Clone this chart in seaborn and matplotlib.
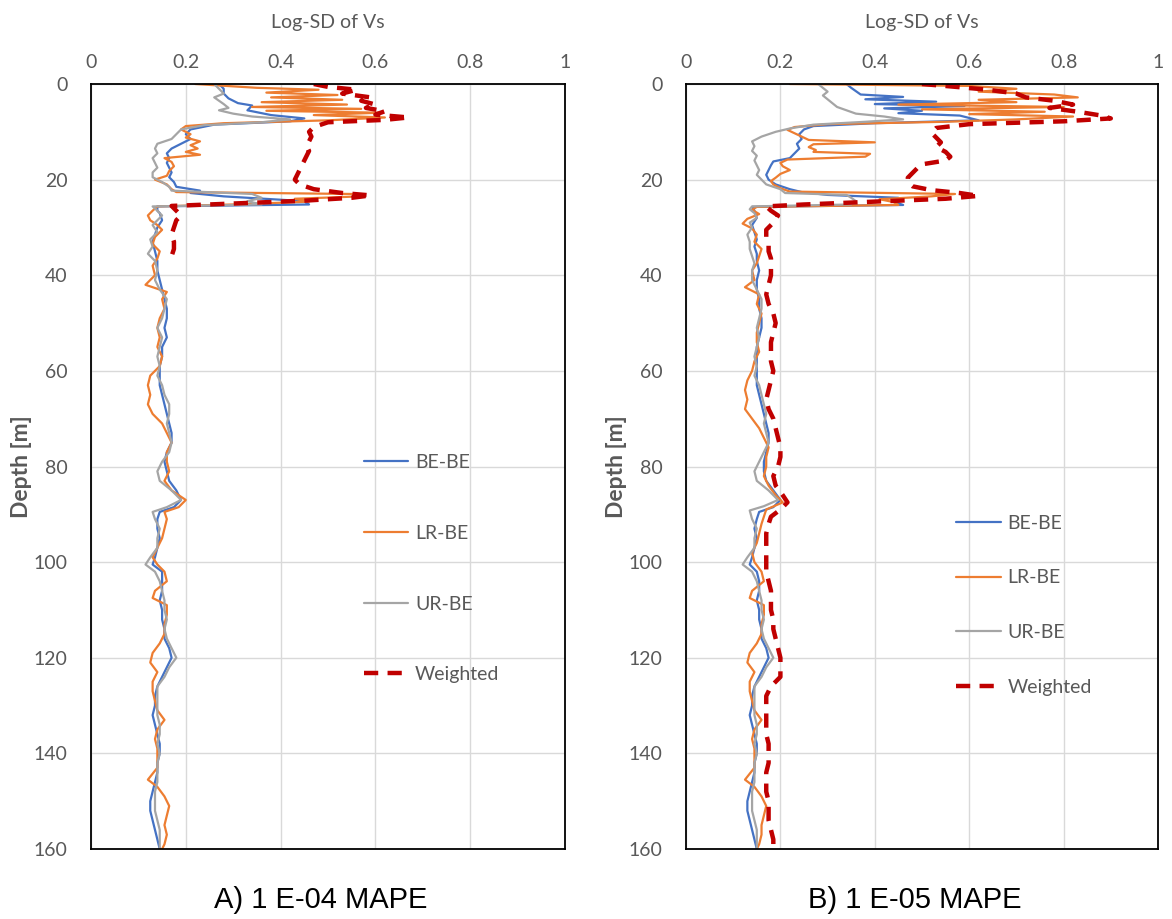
import numpy as np
import pandas as pd
import matplotlib
matplotlib.use("Agg")
import matplotlib.pyplot as plt
import seaborn as sns

# ---------------------------------------------------------------
# Log-SD of Vs profiles, pairs of [depth (m), log-SD]
# ---------------------------------------------------------------
labels = ["BE-BE", "LR-BE", "UR-BE", "Weighted"]
colors = ["#4472C4", "#ED7D31", "#A5A5A5", "#C00000"]
x_ticks = [0, 0.2, 0.4, 0.6, 0.8, 1]
y_ticks = [0, 20, 40, 60, 80, 100, 120, 140, 160]
panel_titles = ["A) 1 E-04 MAPE", "B) 1 E-05 MAPE"]

# Panel A: 1E-04 MAPE
a_be = np.array([
    [0, 0.27], [1, 0.28], [2, 0.28], [3, 0.29], [4, 0.31], [4.5, 0.34], [5.5, 0.33],
    [6.5, 0.38], [7.2, 0.45], [7.8, 0.42], [8.5, 0.26], [9.5, 0.21], [10.5, 0.20],
    [11.5, 0.21], [12.5, 0.19], [13.5, 0.17], [14.5, 0.16], [15.5, 0.165], [16.5, 0.16],
    [17.5, 0.165], [18.5, 0.17], [19.5, 0.165], [20.5, 0.175], [21.5, 0.18], [22.3, 0.23],
    [22.8, 0.21], [23.5, 0.28], [24.5, 0.45], [25.2, 0.46], [25.6, 0.14], [26.5, 0.14],
    [27, 0.145], [28.5, 0.15], [30, 0.14], [31.5, 0.135], [33, 0.13], [35, 0.135],
    [37, 0.14], [39, 0.14], [41, 0.145], [43, 0.15], [45, 0.155], [47, 0.16], [49, 0.16],
    [51, 0.155], [53, 0.16], [55, 0.15], [57, 0.15], [59, 0.145], [61, 0.145],
    [63, 0.145], [65, 0.15], [67, 0.155], [69, 0.16], [71, 0.165], [73, 0.17], [75, 0.17],
    [77, 0.16], [79, 0.155], [81, 0.16], [83, 0.165], [85, 0.18], [87, 0.19],
    [88.5, 0.175], [89.5, 0.145], [91, 0.14], [93, 0.14], [95, 0.145], [97, 0.14],
    [99, 0.135], [100.5, 0.13], [102, 0.15], [104, 0.15], [106, 0.15], [108, 0.145],
    [110, 0.15], [112, 0.15], [114, 0.155], [116, 0.155], [118, 0.165], [120, 0.17],
    [122, 0.16], [124, 0.15], [126, 0.14], [128, 0.135], [130, 0.135], [132, 0.13],
    [134, 0.135], [136, 0.14], [138, 0.145], [140, 0.145], [142, 0.14], [144, 0.14],
    [146, 0.135], [148, 0.13], [150, 0.125], [152, 0.125], [154, 0.13], [156, 0.135],
    [158, 0.14], [160, 0.145]])

a_lr = np.array([
    [0, 0.22], [0.8, 0.35], [1.2, 0.48], [1.8, 0.37], [2.3, 0.52], [2.8, 0.38],
    [3.3, 0.53], [3.8, 0.36], [4.3, 0.54], [4.8, 0.34], [5.2, 0.57], [5.6, 0.37],
    [6.0, 0.61], [6.5, 0.47], [7.0, 0.62], [7.6, 0.5], [8.2, 0.28], [8.8, 0.2],
    [9.5, 0.19], [10.5, 0.21], [11.2, 0.2], [12, 0.23], [12.8, 0.21], [13.5, 0.225],
    [14.2, 0.2], [14.8, 0.23], [15.5, 0.155], [16.3, 0.17], [17.2, 0.175], [18.2, 0.165],
    [19.2, 0.16], [20, 0.135], [21, 0.16], [22, 0.17], [22.6, 0.18], [23, 0.55],
    [23.5, 0.57], [24, 0.43], [24.6, 0.46], [25.2, 0.3], [25.6, 0.14], [26.5, 0.13],
    [27.5, 0.12], [28.5, 0.125], [29.5, 0.14], [30.5, 0.15], [32, 0.135], [33.5, 0.13],
    [35, 0.145], [36.5, 0.14], [38, 0.13], [40, 0.135], [42, 0.115], [43.5, 0.16],
    [45, 0.15], [47, 0.155], [49, 0.145], [51, 0.14], [53, 0.145], [55, 0.14],
    [57, 0.15], [59, 0.145], [61, 0.125], [63, 0.12], [65, 0.125], [67, 0.12],
    [69, 0.13], [71, 0.15], [73, 0.16], [75, 0.17], [77, 0.16], [79, 0.16], [81, 0.165],
    [83, 0.155], [85, 0.17], [87, 0.2], [88.5, 0.185], [89.5, 0.155], [91, 0.16],
    [93, 0.155], [95, 0.15], [97, 0.14], [99, 0.13], [100.5, 0.14], [102, 0.155],
    [104, 0.16], [106, 0.135], [107.5, 0.13], [109, 0.16], [111, 0.16], [113, 0.155],
    [115, 0.155], [117, 0.145], [119, 0.13], [121, 0.125], [123, 0.14], [125, 0.13],
    [127, 0.13], [129, 0.135], [131, 0.14], [133, 0.155], [135, 0.14], [137, 0.135],
    [139, 0.14], [141, 0.14], [143, 0.14], [145.5, 0.12], [147, 0.14], [149, 0.155],
    [151, 0.165], [153, 0.16], [155, 0.155], [157, 0.16], [159, 0.155], [160, 0.15]])

a_ur = np.array([
    [0, 0.26], [1, 0.27], [2, 0.28], [2.8, 0.26], [3.5, 0.27], [4.2, 0.28], [5, 0.29],
    [5.5, 0.27], [6.2, 0.3], [6.8, 0.34], [7.4, 0.42], [8.0, 0.36], [8.6, 0.24],
    [9.5, 0.19], [10.5, 0.18], [11.5, 0.17], [12.5, 0.14], [13.5, 0.135], [14.5, 0.14],
    [15.5, 0.13], [16.5, 0.135], [17.5, 0.14], [18.5, 0.13], [19.5, 0.13], [20.5, 0.15],
    [21.5, 0.165], [22.3, 0.17], [23, 0.34], [23.8, 0.36], [24.5, 0.33], [25.2, 0.36],
    [25.6, 0.13], [26.5, 0.14], [27.5, 0.15], [28.5, 0.14], [29.5, 0.13], [31, 0.14],
    [32.5, 0.125], [34, 0.13], [35.5, 0.12], [37, 0.135], [39, 0.14], [41, 0.135],
    [43, 0.145], [45, 0.16], [47, 0.155], [49, 0.15], [51, 0.14], [53, 0.15], [55, 0.145],
    [57, 0.14], [59, 0.145], [61, 0.14], [63, 0.15], [65, 0.155], [67, 0.165],
    [69, 0.165], [71, 0.16], [73, 0.165], [75, 0.17], [77, 0.165], [79, 0.15], [81, 0.14],
    [83, 0.145], [85, 0.17], [87, 0.19], [88.5, 0.16], [89.5, 0.13], [91, 0.135],
    [93, 0.145], [95, 0.14], [97, 0.14], [99, 0.125], [100.5, 0.115], [102, 0.135],
    [104, 0.145], [106, 0.15], [108, 0.155], [110, 0.155], [112, 0.16], [114, 0.155],
    [116, 0.16], [118, 0.17], [120, 0.18], [122, 0.165], [124, 0.155], [126, 0.14],
    [128, 0.14], [130, 0.14], [132, 0.14], [134, 0.145], [136, 0.145], [138, 0.14],
    [140, 0.145], [142, 0.14], [144, 0.14], [146, 0.14], [148, 0.135], [150, 0.135],
    [152, 0.135], [154, 0.14], [156, 0.145], [158, 0.145], [160, 0.145]])

a_wt = np.array([
    [0, 0.47], [0.6, 0.5], [1.2, 0.56], [2, 0.53], [2.8, 0.59], [3.5, 0.57], [4.3, 0.6],
    [5, 0.58], [5.7, 0.62], [6.4, 0.6], [7.0, 0.67], [7.5, 0.62], [8.0, 0.5],
    [9, 0.47], [10, 0.46], [11, 0.465], [12, 0.46], [13, 0.455], [14, 0.46], [15, 0.455],
    [16, 0.45], [17, 0.445], [18, 0.44], [19, 0.435], [20, 0.43], [21, 0.44],
    [22, 0.47], [22.8, 0.53], [23.3, 0.59], [23.8, 0.55], [24.4, 0.45], [25, 0.3],
    [25.5, 0.17], [26.5, 0.18], [27.5, 0.19], [28.5, 0.18], [30, 0.175], [31.5, 0.17],
    [33, 0.175], [34.5, 0.175], [36, 0.17], [37, 0.175]])

# Panel B: 1E-05 MAPE
b_be = np.array([
    [0, 0.34], [0.8, 0.35], [1.5, 0.36], [2.2, 0.37], [2.7, 0.46], [3.2, 0.38],
    [3.7, 0.53], [4.2, 0.4], [4.6, 0.59], [5.1, 0.42], [5.6, 0.5], [6.1, 0.45],
    [6.6, 0.58], [7.1, 0.6], [7.6, 0.62], [8.2, 0.4], [8.8, 0.27], [9.5, 0.25],
    [10.5, 0.24], [11.5, 0.245], [12.5, 0.235], [13.5, 0.24], [14.5, 0.23], [15.5, 0.22],
    [16.2, 0.185], [17, 0.18], [18, 0.175], [19, 0.17], [20, 0.175], [21, 0.19],
    [22, 0.22], [22.6, 0.245], [23.2, 0.3], [23.8, 0.45], [24.6, 0.44], [25.3, 0.46],
    [25.7, 0.14], [26.5, 0.145], [28, 0.15], [29.5, 0.14], [31, 0.145], [32.5, 0.15],
    [34, 0.145], [35.5, 0.15], [37, 0.15], [39, 0.155], [41, 0.15], [43, 0.15],
    [45, 0.155], [47, 0.155], [49, 0.16], [51, 0.16], [53, 0.155], [55, 0.15],
    [57, 0.15], [59, 0.15], [61, 0.15], [63, 0.15], [65, 0.155], [67, 0.16], [69, 0.165],
    [71, 0.17], [73, 0.175], [75, 0.175], [77, 0.17], [79, 0.165], [81, 0.165],
    [83, 0.17], [85, 0.185], [87, 0.2], [88.5, 0.185], [89.5, 0.155], [91, 0.15],
    [93, 0.145], [95, 0.15], [97, 0.145], [99, 0.14], [100.5, 0.135], [102, 0.15],
    [104, 0.155], [106, 0.155], [108, 0.15], [110, 0.155], [112, 0.155], [114, 0.16],
    [116, 0.16], [118, 0.17], [120, 0.175], [122, 0.165], [124, 0.155], [126, 0.145],
    [128, 0.14], [130, 0.14], [132, 0.135], [134, 0.14], [136, 0.145], [138, 0.15],
    [140, 0.15], [142, 0.145], [144, 0.145], [146, 0.14], [148, 0.135], [150, 0.13],
    [152, 0.13], [154, 0.135], [156, 0.14], [158, 0.145], [160, 0.15]])

b_lr = np.array([
    [0, 0.22], [0.4, 0.6], [1.0, 0.7], [1.6, 0.62], [2.2, 0.78], [2.8, 0.83],
    [3.3, 0.62], [3.8, 0.7], [4.3, 0.45], [4.8, 0.8], [5.3, 0.5], [5.8, 0.76],
    [6.3, 0.6], [6.8, 0.82], [7.4, 0.7], [7.9, 0.55], [8.4, 0.3], [9, 0.23],
    [9.6, 0.215], [10.3, 0.23], [11, 0.245], [11.7, 0.26], [12.2, 0.4], [12.6, 0.27],
    [13.2, 0.26], [13.8, 0.275], [14.2, 0.27], [14.6, 0.39], [15.2, 0.38], [15.8, 0.215],
    [16.5, 0.2], [17.2, 0.205], [18, 0.22], [18.8, 0.2], [19.6, 0.19], [20.3, 0.18],
    [21, 0.185], [21.8, 0.2], [22.5, 0.22], [23, 0.57], [23.5, 0.52], [24.1, 0.41],
    [24.7, 0.44], [25.3, 0.45], [25.7, 0.15], [26.3, 0.14], [27.2, 0.155], [28.2, 0.13],
    [29.2, 0.12], [30.2, 0.14], [31.5, 0.15], [33, 0.145], [34.5, 0.16], [36, 0.155],
    [37.5, 0.15], [39, 0.14], [41, 0.145], [42.5, 0.125], [44, 0.155], [46, 0.15],
    [48, 0.16], [50, 0.155], [52, 0.15], [54, 0.15], [56, 0.155], [58, 0.145],
    [60, 0.14], [62, 0.13], [64, 0.125], [66, 0.13], [68, 0.125], [70, 0.14],
    [72, 0.155], [74, 0.165], [76, 0.175], [78, 0.17], [80, 0.17], [82, 0.165],
    [84, 0.175], [86, 0.19], [87.5, 0.205], [89, 0.17], [90.5, 0.165], [92, 0.16],
    [94, 0.155], [96, 0.15], [98, 0.14], [100, 0.145], [102, 0.16], [104, 0.165],
    [106, 0.14], [107.5, 0.135], [109, 0.165], [111, 0.165], [113, 0.16], [115, 0.16],
    [117, 0.15], [119, 0.135], [121, 0.13], [123, 0.145], [125, 0.135], [127, 0.135],
    [129, 0.14], [131, 0.145], [133, 0.16], [135, 0.145], [137, 0.14], [139, 0.145],
    [141, 0.145], [143, 0.145], [145.5, 0.125], [147, 0.145], [149, 0.16], [151, 0.17],
    [153, 0.165], [155, 0.16], [157, 0.16], [159, 0.155], [160, 0.15]])

b_ur = np.array([
    [0, 0.28], [0.8, 0.29], [1.6, 0.3], [2.4, 0.29], [3.2, 0.3], [4, 0.31], [4.8, 0.32],
    [5.5, 0.34], [6.2, 0.36], [6.8, 0.42], [7.4, 0.46], [7.9, 0.38], [8.5, 0.27],
    [9.3, 0.22], [10, 0.19], [11, 0.16], [12, 0.14], [13, 0.145], [14, 0.14], [15, 0.15],
    [16, 0.145], [17, 0.15], [18, 0.155], [19, 0.15], [20, 0.16], [21, 0.17], [22, 0.2],
    [22.8, 0.21], [23.2, 0.34], [23.8, 0.35], [24.5, 0.36], [25.2, 0.35], [25.6, 0.14],
    [26.2, 0.135], [27, 0.145], [28, 0.15], [29, 0.135], [30, 0.14], [31.5, 0.13],
    [33, 0.135], [34.5, 0.135], [36, 0.14], [37.5, 0.145], [39, 0.14], [41, 0.14],
    [43, 0.15], [45, 0.16], [47, 0.16], [49, 0.155], [51, 0.15], [53, 0.155], [55, 0.15],
    [57, 0.145], [59, 0.15], [61, 0.145], [63, 0.155], [65, 0.16], [67, 0.165],
    [69, 0.17], [71, 0.165], [73, 0.17], [75, 0.175], [77, 0.165], [79, 0.155],
    [81, 0.145], [83, 0.15], [85, 0.175], [87, 0.195], [88.3, 0.165], [89.2, 0.135],
    [91, 0.14], [93, 0.15], [95, 0.145], [97, 0.145], [99, 0.13], [100.5, 0.12],
    [102, 0.14], [104, 0.15], [106, 0.155], [108, 0.16], [110, 0.16], [112, 0.165],
    [114, 0.16], [116, 0.165], [118, 0.175], [120, 0.185], [122, 0.17], [124, 0.16],
    [126, 0.145], [128, 0.145], [130, 0.145], [132, 0.145], [134, 0.15], [136, 0.15],
    [138, 0.145], [140, 0.15], [142, 0.145], [144, 0.145], [146, 0.145], [148, 0.14],
    [150, 0.14], [152, 0.14], [154, 0.145], [156, 0.15], [158, 0.15], [160, 0.15]])

b_wt = np.array([
    [0, 0.5], [0.5, 0.56], [1.2, 0.64], [2, 0.7], [2.8, 0.72], [3.5, 0.78], [4.3, 0.82],
    [5, 0.77], [5.8, 0.83], [6.6, 0.88], [7.2, 0.9], [7.8, 0.8], [8.4, 0.6], [9.2, 0.53],
    [10.2, 0.52], [11.2, 0.53], [12.2, 0.54], [13.2, 0.53], [14.2, 0.55], [15.2, 0.56],
    [16, 0.55], [16.8, 0.5], [17.6, 0.49], [18.6, 0.48], [19.6, 0.47], [20.6, 0.47],
    [21.4, 0.48], [22.2, 0.52], [22.8, 0.58], [23.4, 0.62], [24, 0.55], [24.6, 0.4],
    [25.2, 0.25], [25.6, 0.17], [26.5, 0.18], [27.5, 0.195], [29, 0.185], [30.5, 0.17],
    [32, 0.17], [33.5, 0.175], [35, 0.175], [36.5, 0.18], [38, 0.18], [40, 0.18],
    [42, 0.175], [44, 0.17], [46, 0.175], [48, 0.185], [50, 0.19], [52, 0.185],
    [54, 0.18], [56, 0.18], [58, 0.18], [60, 0.185], [62, 0.18], [64, 0.175], [66, 0.17],
    [68, 0.175], [70, 0.185], [72, 0.19], [74, 0.195], [76, 0.2], [78, 0.2], [80, 0.195],
    [82, 0.185], [84, 0.19], [86, 0.205], [87.5, 0.215], [89, 0.2], [90.5, 0.18],
    [92, 0.175], [94, 0.17], [96, 0.17], [98, 0.17], [100, 0.17], [102, 0.17],
    [104, 0.175], [106, 0.18], [108, 0.18], [110, 0.18], [112, 0.185], [114, 0.185],
    [116, 0.19], [118, 0.195], [120, 0.2], [122, 0.2], [124, 0.2], [126, 0.18],
    [128, 0.17], [130, 0.17], [132, 0.17], [134, 0.17], [136, 0.17], [138, 0.175],
    [140, 0.175], [142, 0.175], [144, 0.17], [146, 0.17], [148, 0.17], [150, 0.175],
    [152, 0.175], [154, 0.175], [156, 0.18], [158, 0.185], [160, 0.185]])

panels = [
    {"series": [a_be, a_lr, a_ur, a_wt], "legend_xy": (0.575, 0.516), "spacing": 2.76},
    {"series": [b_be, b_lr, b_ur, b_wt], "legend_xy": (0.572, 0.437), "spacing": 1.94},
]

# ---------------------------------------------------------------
sns.set_theme(style="white")
plt.rcParams["font.family"] = ["Lato", "DejaVu Sans"]
TEXT_GREY = "#595959"

fig = plt.figure(figsize=(11.72, 9.19), dpi=100)
axes_rects = [
    [91 / 1172, 1 - 849 / 919, 474 / 1172, 765 / 919],
    [686 / 1172, 1 - 849 / 919, 472 / 1172, 765 / 919],
]

for rect, panel, title in zip(axes_rects, panels, panel_titles):
    ax = fig.add_axes(rect)
    handles = []
    for arr, lab, col in zip(panel["series"], labels, colors):
        df = pd.DataFrame({"depth": arr[:, 0], "logsd": arr[:, 1]})
        if lab == "Weighted":
            sns.lineplot(data=df, x="logsd", y="depth", sort=False, estimator=None,
                         color=col, linewidth=3.2, linestyle=(0, (3.2, 2.1)), ax=ax)
        else:
            sns.lineplot(data=df, x="logsd", y="depth", sort=False, estimator=None,
                         color=col, linewidth=1.6, ax=ax)
        handles.append(ax.get_lines()[-1])

    ax.set_xlim(0, 1)
    ax.set_ylim(160, 0)
    ax.set_xticks(x_ticks)
    ax.set_xticklabels([f"{t:g}" for t in x_ticks])
    ax.set_yticks(y_ticks)
    ax.xaxis.tick_top()
    ax.xaxis.set_label_position("top")
    ax.tick_params(axis="x", length=0, pad=9, labelsize=14, labelcolor=TEXT_GREY)
    ax.tick_params(axis="y", length=0, pad=17, labelsize=14, labelcolor=TEXT_GREY)
    ax.set_xlabel("Log-SD of Vs", fontsize=14, color=TEXT_GREY, labelpad=19)
    ax.set_ylabel("Depth [m]", fontsize=16.5, color=TEXT_GREY, fontweight="bold", labelpad=1)
    ax.grid(True, color="#d9d9d9", linewidth=1.0)
    ax.set_axisbelow(True)
    for sp in ax.spines.values():
        sp.set_visible(True)
        sp.set_color("black")
        sp.set_linewidth(1.3)

    leg = ax.legend(handles, labels, loc="upper left", bbox_to_anchor=panel["legend_xy"],
                    frameon=False, fontsize=14, labelspacing=panel["spacing"],
                    handlelength=2.3, handletextpad=0.35, borderpad=0, borderaxespad=0)
    for t in leg.get_texts():
        t.set_color(TEXT_GREY)

    cx = rect[0] + rect[2] / 2 - 0.006
    fig.text(cx, 1 - 900 / 919, title, ha="center", va="center", fontsize=21,
             family=["Liberation Sans", "DejaVu Sans"], color="black")

fig.savefig("out.png", dpi=100, facecolor="white")
